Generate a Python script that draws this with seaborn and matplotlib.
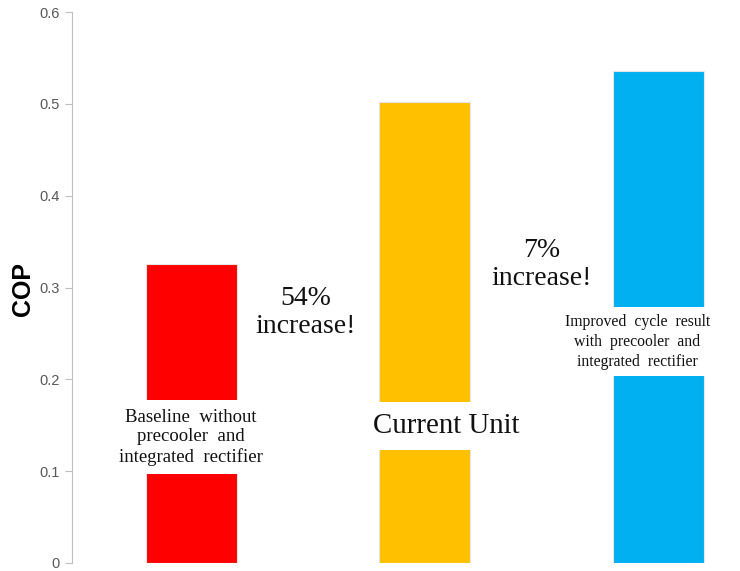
import matplotlib
matplotlib.use("Agg")
import matplotlib.pyplot as plt
import seaborn as sns
import pandas as pd

# COP of each configuration
categories = ["Baseline", "Current Unit", "Improved"]
cop = [0.326, 0.502, 0.536]
colors = ["#FF0000", "#FFC000", "#00B0F0"]

# in-bar labels, their height on the COP axis and horizontal nudge
bar_labels = [
    "Baseline  without\nprecooler  and\nintegrated  rectifier",
    "Current Unit",
    "Improved  cycle  result\nwith  precooler  and\nintegrated  rectifier",
]
label_heights = [0.137, 0.149, 0.241]
label_shift = [0.0, 0.094, -0.09]
label_sizes = [13.5, 20.8, 11.3]
label_spacing = [1.2, 1.0, 1.32]
label_pad = [6, 8, 5]

# increase call-outs between neighbouring bars
increase_text = ["54%\nincrease!", "7%\nincrease!"]
increase_pos = [(0.49, 0.273), (1.50, 0.325)]

yticks = [0, 0.1, 0.2, 0.3, 0.4, 0.5, 0.6]
ytick_labels = ["0", "0.1", "0.2", "0.3", "0.4", "0.5", "0.6"]

sns.set_style("white")
plt.rcParams["font.family"] = ["Liberation Sans", "DejaVu Sans"]

fig = plt.figure(figsize=(7.4, 5.71), dpi=100)
ax = fig.add_axes([72 / 740, 8 / 571, 1 - 72 / 740, 551 / 571])

df = pd.DataFrame({"config": categories, "cop": cop})
sns.barplot(data=df, x="config", y="cop", hue="config", palette=colors,
            width=0.39, saturation=1, legend=False, ax=ax,
            edgecolor="#e6e6e6", linewidth=0.8)

for i, txt in enumerate(bar_labels):
    ax.text(i + label_shift[i], label_heights[i], txt,
            ha="center", va="center", family="Liberation Serif",
            fontsize=label_sizes[i], color="#111111",
            linespacing=label_spacing[i],
            bbox=dict(facecolor="white", edgecolor="none", pad=label_pad[i]))

for txt, (x, y) in zip(increase_text, increase_pos):
    ax.text(x, y, txt, ha="center", va="center", family="Liberation Serif",
            fontsize=20, color="#111111", linespacing=1.15)

ax.set_xlim(-0.51, 2.35)
ax.set_ylim(0, 0.6)
ax.set_yticks(yticks)
ax.set_yticklabels(ytick_labels, color="#595959", fontsize=10.5)
ax.set_xticks([])
ax.set_xlabel("")
ax.set_ylabel("COP", fontsize=18, fontweight="bold", color="black")
ax.yaxis.set_label_coords(-0.055, 0.497)
ax.tick_params(axis="y", length=5, color="#bfbfbf", width=0.8, pad=4, left=True)

for side in ["top", "right", "bottom"]:
    ax.spines[side].set_visible(False)
ax.spines["left"].set_color("#bfbfbf")
ax.spines["left"].set_linewidth(0.8)

fig.savefig("out.png", dpi=100, facecolor="white")
